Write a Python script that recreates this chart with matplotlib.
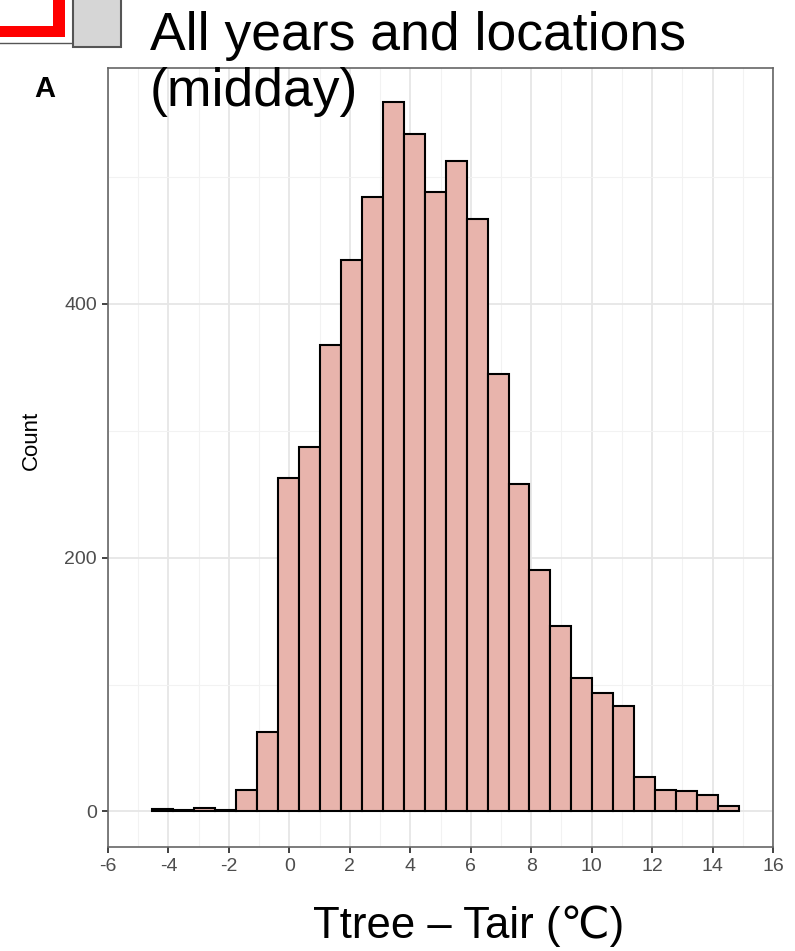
import matplotlib
matplotlib.use("Agg")
import matplotlib.pyplot as plt
from matplotlib.patches import Rectangle
from matplotlib.lines import Line2D
import numpy as np

plt.rcParams['font.family'] = ['Liberation Sans', 'DejaVu Sans']

# histogram of Ttree - Tair (midday), 28 bins
bin_start = -4.53
bin_width = 0.693
counts = [2, 1, 3, 1, 17, 63, 263, 287, 368, 435, 484, 559, 534, 488,
          513, 467, 345, 258, 190, 146, 105, 93, 83, 27, 17, 16, 13, 4]
x_ticks = [-6, -4, -2, 0, 2, 4, 6, 8, 10, 12, 14, 16]
y_ticks = [0, 200, 400]

W, H = 795, 951
fig = plt.figure(figsize=(W / 100, H / 100), dpi=100)

def fx(px):
    return px / W

def fy(py):
    return 1 - py / H

ax = fig.add_axes([fx(108), fy(847), fx(773) - fx(108), fy(68) - fy(847)])

edges = bin_start + bin_width * np.arange(len(counts))
ax.bar(edges, counts, width=bin_width, align='edge', color='#e8b4ac',
       edgecolor='black', linewidth=1.5, zorder=3)

ax.set_xlim(-6, 16)
ax.set_ylim(-28, 586)
ax.set_xticks(x_ticks)
ax.set_xticklabels([str(t) for t in x_ticks])
ax.set_yticks(y_ticks)
ax.set_xticks(np.arange(-5, 16, 2), minor=True)
ax.set_yticks([100, 300, 500], minor=True)
ax.grid(True, which='major', color='#e6e6e6', linewidth=1.3, zorder=0)
ax.grid(True, which='minor', color='#f2f2f2', linewidth=0.8, zorder=0)
ax.set_axisbelow(True)
ax.tick_params(which='minor', length=0)
ax.tick_params(which='major', length=4, width=1.3, color='#333333',
               labelcolor='#4d4d4d', labelsize=14, pad=4)
for s in ax.spines.values():
    s.set_color('#666666')
    s.set_linewidth(1.2)

# title and labels
fig.text(fx(150), fy(50), "All years and locations", fontsize=38.5,
         va='baseline', ha='left', color='black')
fig.text(fx(150), fy(106), "(midday)", fontsize=38.5,
         va='baseline', ha='left', color='black')
fig.text(fx(34), fy(97), "A", fontsize=21, fontweight='bold',
         va='baseline', ha='left')
fig.text(fx(31), fy(440), "Count", fontsize=16, rotation=90,
         va='center', ha='center')
fig.text(fx(469), fy(938), "Ttree – Tair (℃)", fontsize=31.5,
         va='baseline', ha='center')

# cropped window decorations at top-left
def box(x0, y0, x1, y1, **kw):
    fig.patches.append(Rectangle((fx(x0), fy(y1)), fx(x1) - fx(x0),
                                 fy(y0) - fy(y1), transform=fig.transFigure, **kw))

box(0, 26, 65, 37, facecolor='#ff0000', edgecolor='none')
box(53, 0, 65, 37, facecolor='#ff0000', edgecolor='none')
fig.lines.append(Line2D([fx(0), fx(71)], [fy(43), fy(43)], color='#555555',
                        linewidth=1, transform=fig.transFigure))
box(73, -3, 121, 47, facecolor='#d6d6d6', edgecolor='#555555', linewidth=1.5)

fig.savefig("out.png", dpi=100)
